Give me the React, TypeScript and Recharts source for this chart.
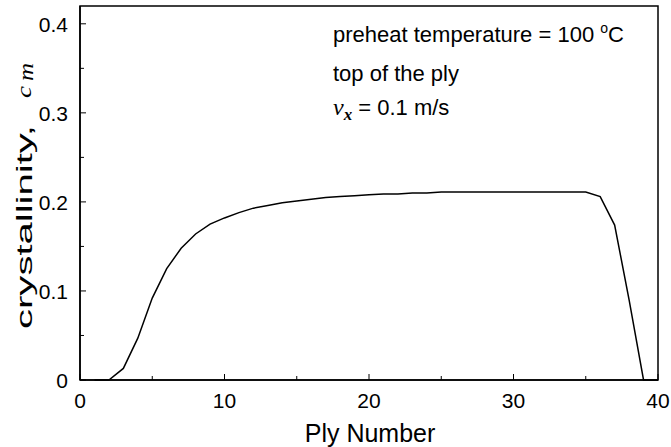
import { LineChart, Line, XAxis, YAxis, ReferenceArea } from "recharts";

const plyNumbers = [
  1, 2, 3, 4, 5, 6, 7, 8, 9, 10, 11, 12, 13, 14, 15, 16, 17, 18, 19, 20,
  21, 22, 23, 24, 25, 26, 27, 28, 29, 30, 31, 32, 33, 34, 35, 36, 37, 38, 39, 40,
];

const crystallinity = [
  0, 0, 0.013, 0.047, 0.092, 0.125, 0.148, 0.164, 0.175, 0.182, 0.188, 0.193,
  0.196, 0.199, 0.201, 0.203, 0.205, 0.206, 0.207, 0.208, 0.209, 0.209, 0.21,
  0.21, 0.211, 0.211, 0.211, 0.211, 0.211, 0.211, 0.211, 0.211, 0.211, 0.211,
  0.211, 0.206, 0.174, 0.09, 0, 0,
];

const xTicks = [0, 5, 10, 15, 20, 25, 30, 35, 40];
const yTicks = [0, 0.05, 0.1, 0.15, 0.2, 0.25, 0.3, 0.35, 0.4];

const data = plyNumbers.map((n, i) => ({ ply: n, cm: crystallinity[i] }));

const FONT = "'Liberation Sans', Arial, sans-serif";
const SERIF = "'Liberation Serif', 'Times New Roman', serif";

function XTick(props: any) {
  const { x, y, payload } = props;
  const major = payload.value % 10 === 0;
  return (
    <g>
      <line x1={x} y1={y} x2={x} y2={y - (major ? 6 : 4)} stroke="#000" strokeWidth={1} />
      {major && (
        <text x={x} y={y + 28} textAnchor="middle" fontSize={21} fontFamily={FONT} fill="#000">
          {payload.value}
        </text>
      )}
    </g>
  );
}

function YTick(props: any) {
  const { x, y, payload } = props;
  const v = Math.round(payload.value * 100) / 100;
  const major = Math.round(v * 100) % 10 === 0;
  return (
    <g>
      <line x1={x} y1={y} x2={x + (major ? 6 : 4)} y2={y} stroke="#000" strokeWidth={1} />
      {major && (
        <text x={x - 12} y={y + 8} textAnchor="end" fontSize={21} fontFamily={FONT} fill="#000">
          {v === 0 ? "0" : v.toFixed(1)}
        </text>
      )}
    </g>
  );
}

export default function App() {
  return (
    <div style={{ position: "absolute", top: 0, left: 0, width: 671, height: 447, background: "#fff" }}>
      <LineChart
        width={671}
        height={447}
        data={data}
        margin={{ top: 6, right: 13, bottom: 0, left: 0 }}
      >
        <XAxis
          dataKey="ply"
          type="number"
          domain={[0, 40]}
          ticks={xTicks}
          tickSize={0}
          tickMargin={0}
          tick={<XTick />}
          tickLine={false}
          axisLine={{ stroke: "#000", strokeWidth: 1.5 }}
          height={67}
          interval={0}
        />
        <YAxis
          type="number"
          domain={[0, 0.42]}
          ticks={yTicks}
          tickSize={0}
          tickMargin={0}
          tick={<YTick />}
          tickLine={false}
          axisLine={{ stroke: "#000", strokeWidth: 1.5 }}
          width={80}
          interval={0}
        />
        <ReferenceArea
          x1={0}
          x2={40}
          y1={0}
          y2={0.42}
          fill="none"
          stroke="#000"
          strokeWidth={1.5}
          ifOverflow="visible"
        />
        <Line
          type="linear"
          dataKey="cm"
          stroke="#000"
          strokeWidth={1.5}
          dot={false}
          isAnimationActive={false}
        />
      </LineChart>
      <svg
        width={671}
        height={447}
        style={{ position: "absolute", top: 0, left: 0, pointerEvents: "none" }}
      >
        <text x={370} y={442} textAnchor="middle" fontSize={25} fontFamily={FONT} fill="#000">
          Ply Number
        </text>
        <text
          transform="translate(32,227) rotate(-90)"
          textAnchor="middle"
          fontSize={22}
          fontFamily={FONT}
          fill="#000"
          textLength={204}
          lengthAdjust="spacingAndGlyphs"
        >
          crystallinity,
        </text>
        <text
          transform="translate(31,98) rotate(-90)"
          fontSize={22}
          fontFamily={SERIF}
          fontStyle="italic"
          fill="#000"
          textLength={12}
          lengthAdjust="spacingAndGlyphs"
        >
          c
        </text>
        <text
          transform="translate(33,81) rotate(-90)"
          fontSize={20}
          fontFamily={SERIF}
          fontStyle="italic"
          fill="#000"
          textLength={18}
          lengthAdjust="spacingAndGlyphs"
        >
          m
        </text>
        <text x={333} y={42} fontSize={22} fontFamily={FONT} fill="#000">
          preheat temperature = 100 <tspan fontSize={14} dy={-9}>o</tspan>
          <tspan dy={9}>C</tspan>
        </text>
        <text x={333} y={81} fontSize={22} fontFamily={FONT} fill="#000">
          top of the ply
        </text>
        <text x={333} y={115} fontSize={22} fontFamily={FONT} fill="#000">
          <tspan fontFamily={SERIF} fontStyle="italic" fontSize={24}>v</tspan>
          <tspan fontFamily={SERIF} fontStyle="italic" fontWeight="bold" fontSize={17} dy={5}>x</tspan>
          <tspan dy={-5}> = 0.1 m/s</tspan>
        </text>
      </svg>
    </div>
  );
}
